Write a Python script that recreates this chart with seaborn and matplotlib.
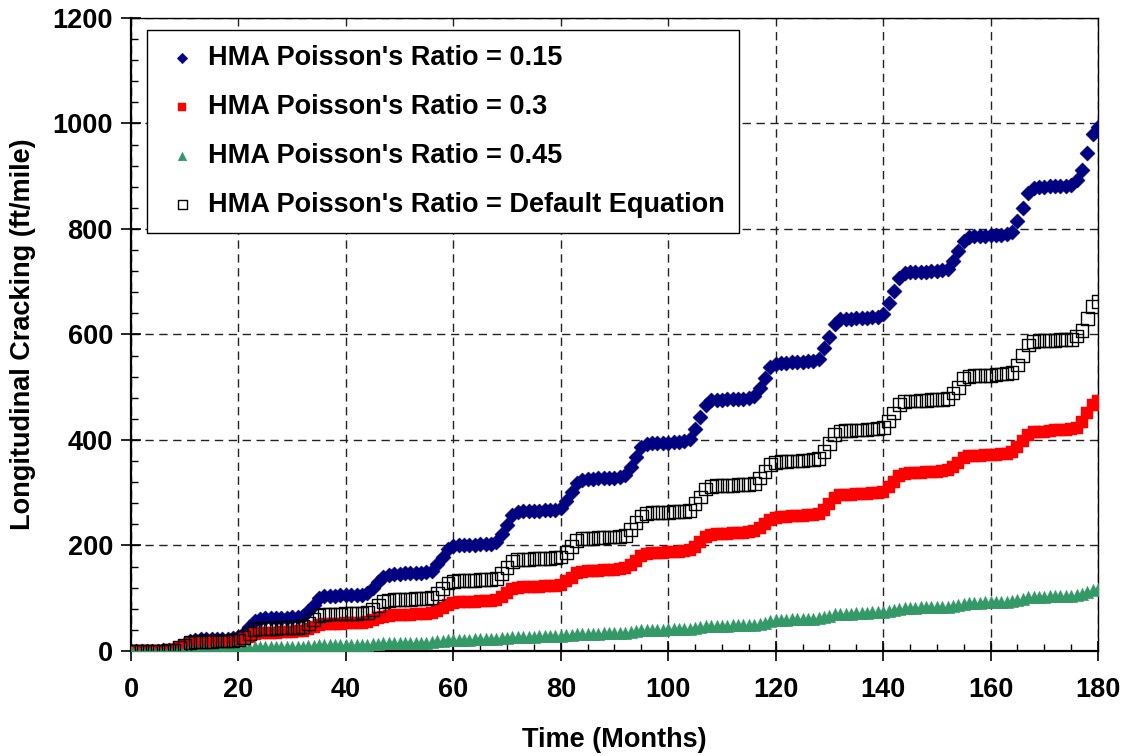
import numpy as np
import pandas as pd
import seaborn as sns
import matplotlib
matplotlib.use("Agg")
import matplotlib.pyplot as plt
from matplotlib.ticker import MultipleLocator

# Monthly longitudinal cracking (ft/mile), one row per analysis year
months = list(range(0, 181))

nu_015 = [
    0, 0, 0, 0, 0, 0, 1, 1, 2, 7, 13, 19,
    21, 22, 22, 22, 23, 23, 23, 24, 26, 35, 46, 57,
    61, 62, 62, 63, 63, 63, 64, 64, 66, 76, 88, 100,
    104, 105, 105, 106, 106, 106, 107, 107, 110, 119, 130, 141,
    145, 146, 146, 147, 147, 148, 148, 149, 152, 164, 178, 193,
    199, 200, 200, 201, 201, 202, 202, 203, 207, 221, 239, 257,
    264, 265, 265, 266, 266, 267, 267, 268, 272, 285, 302, 319,
    325, 326, 326, 327, 327, 328, 328, 329, 333, 349, 367, 386,
    393, 394, 394, 395, 395, 396, 397, 398, 402, 421, 443, 466,
    475, 476, 476, 477, 477, 478, 478, 479, 483, 499, 518, 538,
    545, 546, 546, 547, 548, 548, 549, 550, 554, 574, 596, 620,
    629, 630, 630, 631, 632, 632, 633, 634, 639, 659, 683, 707,
    717, 718, 718, 719, 719, 720, 721, 722, 725, 740, 759, 778,
    785, 786, 786, 787, 788, 788, 789, 790, 795, 816, 840, 868,
    878, 880, 880, 881, 881, 882, 882, 883, 893, 912, 945, 980,
    993,
]

nu_030 = [
    0, 0, 0, 0, 0, 0, 0, 1, 2, 5, 9, 13,
    14, 15, 15, 15, 16, 16, 16, 17, 18, 22, 27, 32,
    34, 35, 35, 35, 36, 36, 36, 37, 38, 41, 45, 49,
    51, 52, 52, 52, 53, 53, 53, 54, 55, 58, 62, 65,
    67, 68, 68, 69, 69, 70, 70, 71, 72, 76, 82, 88,
    91, 92, 92, 93, 93, 94, 94, 95, 97, 102, 109, 117,
    120, 121, 121, 122, 122, 123, 123, 124, 126, 132, 139, 147,
    150, 151, 151, 152, 153, 153, 154, 155, 157, 163, 171, 180,
    184, 185, 185, 186, 187, 187, 188, 189, 191, 198, 207, 216,
    220, 221, 221, 222, 223, 223, 224, 225, 227, 233, 241, 249,
    253, 254, 254, 255, 256, 256, 257, 258, 260, 268, 279, 290,
    295, 296, 296, 297, 298, 298, 299, 300, 302, 310, 321, 332,
    336, 337, 337, 338, 339, 339, 340, 341, 343, 349, 357, 365,
    369, 370, 370, 371, 372, 372, 373, 374, 377, 386, 398, 410,
    415, 416, 416, 417, 418, 418, 419, 420, 423, 434, 452, 467,
    473,
]

nu_045 = [
    0, 0, 0, 0, 0, 0, 0, 0, 0, 1, 2, 3,
    3, 3, 3, 3, 3, 3, 3, 4, 4, 5, 6, 7,
    7, 7, 7, 7, 7, 8, 8, 8, 8, 9, 10, 11,
    11, 11, 11, 11, 11, 12, 12, 12, 12, 13, 14, 15,
    15, 15, 15, 15, 16, 16, 16, 16, 17, 18, 19, 20,
    21, 21, 21, 21, 22, 22, 22, 22, 23, 24, 25, 26,
    27, 27, 27, 27, 28, 28, 28, 28, 29, 30, 31, 32,
    33, 33, 33, 33, 34, 34, 34, 34, 35, 36, 37, 39,
    40, 40, 40, 40, 41, 41, 41, 41, 42, 43, 45, 47,
    48, 48, 48, 48, 49, 49, 49, 49, 50, 52, 54, 57,
    59, 59, 59, 60, 60, 60, 61, 61, 62, 64, 67, 70,
    71, 71, 71, 72, 72, 72, 73, 73, 74, 76, 78, 80,
    82, 82, 82, 83, 83, 83, 84, 84, 84, 86, 88, 90,
    91, 91, 91, 92, 92, 92, 93, 93, 94, 96, 99, 102,
    103, 103, 103, 104, 104, 104, 105, 105, 106, 108, 111, 115,
    117,
]

nu_default = [
    0, 0, 0, 0, 0, 0, 0, 1, 2, 6, 11, 16,
    17, 18, 18, 18, 19, 19, 19, 20, 21, 26, 33, 40,
    42, 43, 43, 43, 44, 44, 44, 45, 46, 52, 59, 67,
    69, 70, 70, 70, 71, 71, 71, 72, 73, 79, 86, 94,
    96, 97, 97, 98, 98, 99, 99, 100, 101, 109, 119, 129,
    132, 133, 133, 134, 134, 135, 135, 136, 138, 147, 158, 169,
    173, 174, 174, 175, 175, 176, 176, 177, 178, 187, 198, 209,
    213, 214, 214, 215, 215, 216, 216, 217, 219, 230, 243, 256,
    261, 262, 262, 263, 263, 264, 264, 265, 267, 279, 292, 307,
    312, 313, 313, 314, 314, 315, 315, 316, 318, 328, 340, 353,
    358, 359, 359, 360, 360, 361, 362, 363, 365, 378, 394, 411,
    417, 418, 418, 419, 419, 420, 421, 422, 424, 436, 451, 467,
    473, 474, 474, 475, 475, 476, 476, 477, 478, 489, 500, 516,
    521, 522, 522, 523, 523, 524, 525, 526, 528, 542, 560, 580,
    587, 588, 588, 589, 589, 590, 590, 591, 597, 608, 630, 653,
    663,
]

labels = [
    "HMA Poisson's Ratio = 0.15",
    "HMA Poisson's Ratio = 0.3",
    "HMA Poisson's Ratio = 0.45",
    "HMA Poisson's Ratio = Default Equation",
]

df = pd.DataFrame({
    "month": months,
    "nu_015": nu_015,
    "nu_030": nu_030,
    "nu_045": nu_045,
    "nu_default": nu_default,
})

sns.set_style("white")
plt.rcParams["font.family"] = ["Liberation Sans", "DejaVu Sans"]
plt.rcParams["font.weight"] = "bold"
for key in ["text.color", "axes.labelcolor", "xtick.color", "ytick.color"]:
    plt.rcParams[key] = "black"

fig = plt.figure(figsize=(11.27, 7.56), dpi=100)
ax = fig.add_axes([0.1162, 0.1389, 0.8581, 0.8373])

sns.scatterplot(data=df, x="month", y="nu_015", ax=ax, marker="D", s=60,
                color="#000080", edgecolor="#000080", linewidth=0.3,
                label=labels[0], zorder=3)
sns.scatterplot(data=df, x="month", y="nu_030", ax=ax, marker="s", s=72,
                color="#FF0000", edgecolor="#FF0000", linewidth=0.3,
                label=labels[1], zorder=3)
sns.scatterplot(data=df, x="month", y="nu_045", ax=ax, marker="^", s=80,
                color="#339966", edgecolor="#339966", linewidth=0.3,
                label=labels[2], zorder=3)
sns.scatterplot(data=df, x="month", y="nu_default", ax=ax, marker="s", s=85,
                color="black", facecolor="none", edgecolor="black",
                linewidth=1.0, label=labels[3], zorder=4)

ax.set_xlim(0, 180)
ax.set_ylim(0, 1200)
ax.xaxis.set_major_locator(MultipleLocator(20))
ax.xaxis.set_minor_locator(MultipleLocator(5))
ax.yaxis.set_major_locator(MultipleLocator(200))
ax.yaxis.set_minor_locator(MultipleLocator(40))

ax.grid(True, which="major", color="#222222", linestyle=(0, (6, 4)),
        linewidth=1.0, zorder=0)
ax.set_axisbelow(True)

for side in ["left", "bottom", "right", "top"]:
    ax.spines[side].set_visible(True)
    ax.spines[side].set_color("black")
ax.spines["left"].set_linewidth(1.6)
ax.spines["bottom"].set_linewidth(1.6)
ax.spines["right"].set_linewidth(1.0)
ax.spines["top"].set_linewidth(1.0)

ax.tick_params(which="major", direction="inout", length=14, width=1.2,
               labelsize=19.5, color="black", labelcolor="black")
ax.tick_params(axis="x", which="major", pad=12)
ax.tick_params(axis="y", which="major", pad=6)
ax.tick_params(which="minor", direction="in", length=5, width=1.0,
               color="black")
ax.tick_params(axis="both", which="both", bottom=True, left=True,
               top=False, right=False)
for lab in ax.get_xticklabels() + ax.get_yticklabels():
    lab.set_fontweight("bold")

ax.set_xlabel("Time (Months)", fontsize=19.5, fontweight="bold", labelpad=17,
              color="black")
ax.set_ylabel("Longitudinal Cracking (ft/mile)", fontsize=19.5,
              fontweight="bold", labelpad=12, color="black")

leg = ax.legend(loc="upper left", bbox_to_anchor=(0.0165, 0.981),
                borderaxespad=0, frameon=True, fancybox=False, shadow=False,
                markerscale=0.7, handlelength=1.5, handletextpad=0.2,
                borderpad=0.55, labelspacing=0.85,
                prop={"weight": "bold", "size": 19.5})
leg.get_frame().set_edgecolor("black")
leg.get_frame().set_linewidth(1.0)
leg.get_frame().set_alpha(1.0)
leg.set_zorder(10)
for txt in leg.get_texts():
    txt.set_color("black")

fig.savefig("out.png", dpi=100)
